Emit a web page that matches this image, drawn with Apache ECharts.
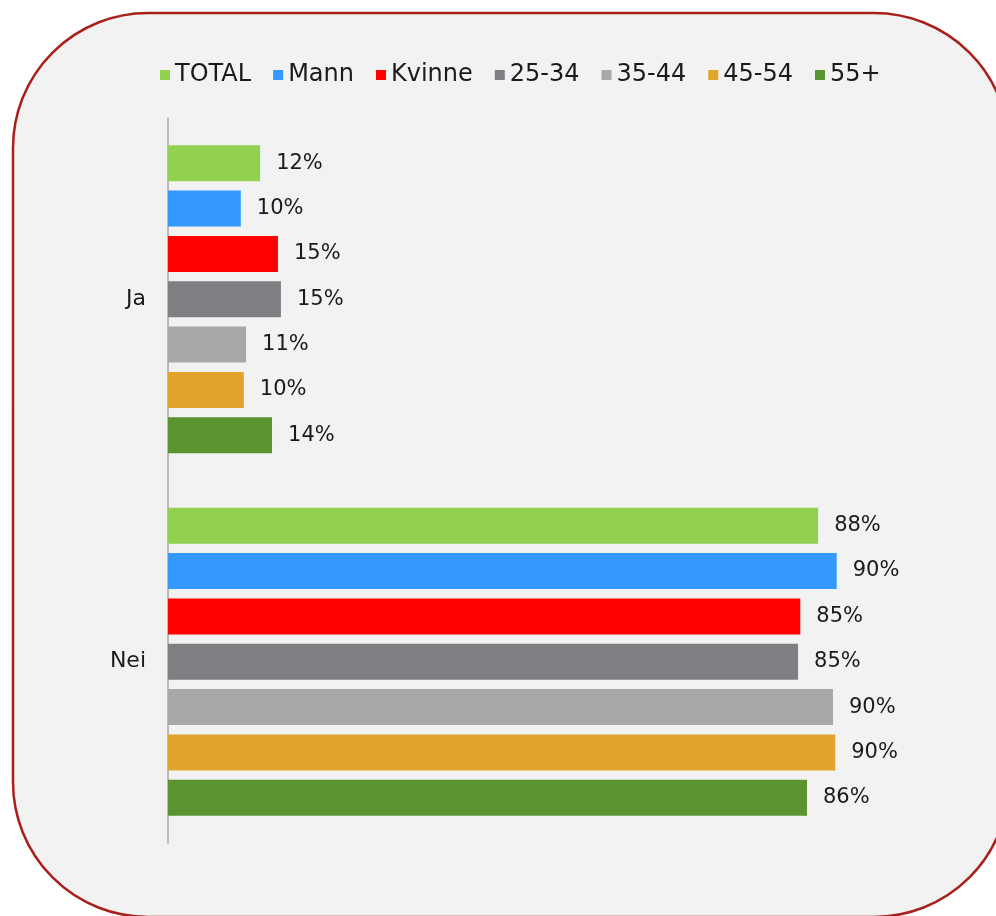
<!DOCTYPE html>
<html>
<head>
<meta charset="utf-8">
<script src="https://cdn.jsdelivr.net/npm/echarts@6/dist/echarts.min.js"></script>
<style>
html,body{margin:0;padding:0;background:#ffffff;}
#chart{width:996px;height:916px;}
</style>
</head>
<body>
<div id="chart"></div>
<script>
const categories = ['Ja', 'Nei'];
const seriesNames = ['TOTAL', 'Mann', 'Kvinne', '25-34', '35-44', '45-54', '55+'];
const TOTAL = [12.4, 87.5];
const Mann = [9.8, 90.0];
const Kvinne = [14.8, 85.1];
const age2534 = [15.2, 84.8];
const age3544 = [10.5, 89.5];
const age4554 = [10.2, 89.8];
const age55 = [14.0, 86.0];
const seriesValues = [TOTAL, Mann, Kvinne, age2534, age3544, age4554, age55];
const colors = ['#92d050', '#3399ff', '#ff0000', '#7f7f83', '#a7a8aa', '#e2a42c', '#5b9330'];

const FONT = 'DejaVu Sans';
const chart = echarts.init(document.getElementById('chart'), null, {renderer: 'canvas'});
chart.setOption({
  backgroundColor: '#ffffff',
  animation: false,
  graphic: [{
    type: 'rect',
    z: -10,
    silent: true,
    shape: {x: 13, y: 13, width: 996, height: 904, r: 135},
    style: {fill: '#f2f2f2', stroke: '#a8201a', lineWidth: 2.5}
  }],
  legend: {
    top: 58,
    left: 155,
    icon: 'rect',
    itemWidth: 10,
    itemHeight: 10,
    itemGap: 22,
    textStyle: {fontFamily: FONT, fontSize: 24, color: '#1a1a1a'},
    data: seriesNames
  },
  grid: {left: 168, right: 85, top: 118, bottom: 73, containLabel: false},
  xAxis: {type: 'value', min: 0, max: 100, show: false},
  yAxis: {
    type: 'category',
    data: categories,
    inverse: true,
    axisLine: {show: true, lineStyle: {color: '#a6a6a6', width: 1.5}},
    axisTick: {show: false},
    axisLabel: {fontFamily: FONT, fontSize: 22, color: '#1a1a1a', margin: 22}
  },
  series: seriesNames.map((name, i) => ({
    name: name,
    type: 'bar',
    data: seriesValues[i],
    barGap: '26%',
    barCategoryGap: '15%',
    itemStyle: {color: colors[i]},
    label: {
      show: true,
      position: 'right',
      distance: 16,
      fontFamily: FONT,
      fontSize: 21,
      color: '#1a1a1a',
      formatter: p => Math.round(p.value) + '%'
    }
  }))
});
</script>
</body>
</html>
